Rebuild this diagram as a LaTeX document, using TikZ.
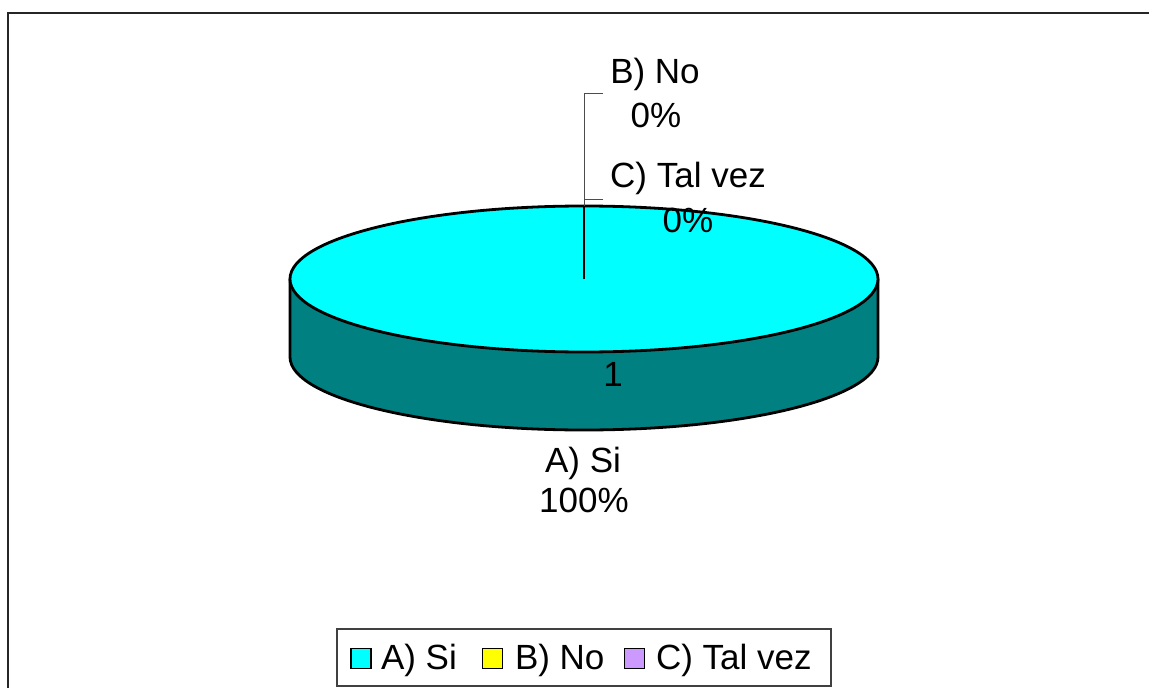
\documentclass[tikz,border=0pt]{standalone}
\usepackage{fontspec}
\setmainfont{Liberation Sans}
\usetikzlibrary{positioning}
\definecolor{siCyan}{HTML}{00FFFF}
\definecolor{siTeal}{HTML}{008080}
\definecolor{noYellow}{HTML}{FFFF00}
\definecolor{talPurple}{HTML}{CC99FF}

\begin{document}
\begin{tikzpicture}[x=1pt,y=-1pt,
  every node/.style={font=\fontsize{35}{42}\selectfont, inner sep=0pt, outer sep=0pt},
  edge/.style={line width=2.8pt, line join=round},
  leader/.style={line width=1pt, black!70},
  key/.style={draw=black, line width=1.5pt, minimum size=20pt, inner sep=0pt}]
\useasboundingbox (0,0) rectangle (1149,688);
\draw[line width=2.5pt, black!85] (8,688) -- (8,13) -- (1149,13);

% the pie
\coordinate (ctr) at (584,279);
\coordinate (rim) at (584,206);
\filldraw[edge, fill=siTeal] (290,279) -- (290,357) arc[start angle=180, end angle=0, x radius=294, y radius=73] -- (878,279) -- cycle;
\filldraw[edge, fill=siCyan] (ctr) ellipse[x radius=294, y radius=73];
\draw[edge] (ctr) -- (rim);

\node[anchor=base] (one) at (613,386) {1};

% labels of the slices
\node[anchor=base] (labB) at (655,83) {B) No};
\node[anchor=base] (pctB) at (656,127) {0\%};
\node[anchor=base] (labC) at (688,187) {C) Tal vez};
\node[anchor=base] (pctC) at (688,232) {0\%};
\node[anchor=base] (labA) at (583,472) {A) Si};
\node[anchor=base] (pctA) at (584,512) {100\%};

\coordinate (tickB) at (603,93);
\coordinate (tickC) at (603,199);
\draw[leader] (tickB) -- (584,93) -- (rim);
\draw[leader] (tickC) -- (584,199);

% legend
\draw[line width=1.2pt, black!75] (337,629) rectangle (831,686);
\node[key, fill=siCyan] (keyA) at (361,658.5) {};
\node[anchor=base west] (txtA) at (381,669) {A) Si};
\node[key, fill=noYellow] (keyB) at (492.5,658.5) {};
\node[anchor=base west] (txtB) at (515,669) {B) No};
\node[key, fill=talPurple] (keyC) at (634.5,658.5) {};
\node[anchor=base west] (txtC) at (656,669) {C) Tal vez};
\end{tikzpicture}
\end{document}
